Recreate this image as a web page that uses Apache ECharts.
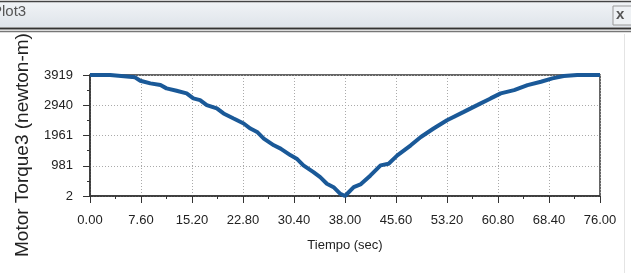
<!DOCTYPE html>
<html>
<head>
<meta charset="utf-8">
<script src="https://cdn.jsdelivr.net/npm/echarts@6/dist/echarts.min.js"></script>
<style>
  html, body { margin: 0; padding: 0; background: #fff; }
  #chart { width: 631px; height: 273px; }
</style>
</head>
<body>
<div id="chart"></div>
<script>
// Motor Torque3 vs Tiempo
const tiempo = [0, 3.0, 3.2, 6.7, 7.5, 9.0, 10.5, 11.4, 12.9, 14.4, 15.4, 16.4, 17.4, 18.9, 19.9,
  21.4, 22.9, 23.9, 24.9, 25.9, 27.4, 28.4, 29.9, 30.8, 31.8, 33.3, 34.3, 35.3, 36.3, 37.3, 38.0,
  38.2, 39.3, 40.3, 41.8, 43.3, 44.5, 45.8, 47.8, 49.3, 51.2, 53.2, 55.7, 57.7, 59.7, 61.2,
  63.2, 65.2, 67.2, 68.9, 70.6, 72.6, 76.0]
const torque = [3919, 3919, 3863, 3843, 3733, 3648, 3593, 3486, 3408, 3323, 3161, 3106, 2943, 2836, 2674,
  2511, 2349, 2186, 2076, 1861, 1643, 1536, 1318, 1211, 993, 775, 613, 398, 288, 73, 2,
  2, 288, 376, 668, 993, 1048, 1318, 1643, 1913, 2186, 2456, 2726, 2943, 3161, 3323,
  3431, 3593, 3701, 3811, 3886, 3918, 3919]

const xTicks = [0, 7.6, 15.2, 22.8, 30.4, 38, 45.6, 53.2, 60.8, 68.4, 76]
const yTicks = [2, 981, 1961, 2940, 3919]

const yMin = yTicks[0]
const yMax = yTicks[yTicks.length - 1]
const yStep = (yMax - yMin) / (yTicks.length - 1)

const chart = echarts.init(document.getElementById('chart'))

const option = {
  animation: false,
  grid: {
    left: 90, right: 31, top: 75, bottom: 77,
    show: true, borderColor: '#333', borderWidth: 1.5, backgroundColor: '#fff'
  },
  xAxis: {
    type: 'value',
    min: xTicks[0],
    max: xTicks[xTicks.length - 1],
    interval: xTicks[1] - xTicks[0],
    name: 'Tiempo (sec)',
    nameLocation: 'middle',
    nameGap: 43,
    nameTextStyle: { fontFamily: 'Liberation Sans', fontSize: 13, color: '#222' },
    axisLine: { lineStyle: { color: '#333', width: 1.5 } },
    axisTick: { length: 7, lineStyle: { color: '#333' } },
    minorTick: { show: true, splitNumber: 2, length: 3, lineStyle: { color: '#333' } },
    axisLabel: {
      margin: 18, fontFamily: 'Liberation Sans', fontSize: 13, color: '#222',
      formatter: v => v.toFixed(2)
    },
    splitLine: { show: true, lineStyle: { color: '#aaa', type: [1, 2], width: 1 } }
  },
  yAxis: {
    type: 'value',
    // axis runs from 0 and data is shifted by yMin so ticks land on the labels
    min: 0,
    max: yMax - yMin,
    interval: yStep,
    axisLine: { show: true, lineStyle: { color: '#333', width: 1.5 } },
    axisTick: { show: true, length: 7, lineStyle: { color: '#333' } },
    minorTick: { show: true, splitNumber: 2, length: 3, lineStyle: { color: '#333' } },
    axisLabel: {
      margin: 17, fontFamily: 'Liberation Sans', fontSize: 13, color: '#222',
      formatter: v => String(Math.round(v + yMin))
    },
    splitLine: { show: true, lineStyle: { color: '#aaa', type: [1, 2], width: 1 } }
  },
  series: [{
    type: 'line',
    data: tiempo.map((t, i) => [t, torque[i] - yMin]),
    showSymbol: false,
    lineStyle: { color: '#1a5998', width: 4 },
    clip: false
  }],
  graphic: [
    {
      type: 'text', z: 10,
      rotation: Math.PI / 2,
      x: 23, y: 257,
      style: {
        text: 'Motor Torque3 (newton-m)',
        fontFamily: 'Liberation Sans', fontSize: 19, fill: '#222',
        textAlign: 'left', textVerticalAlign: 'middle'
      }
    },
    // window chrome on top
    { type: 'rect', z: 20, shape: { x: 0, y: 0, width: 631, height: 34 }, style: { fill: '#fff' } },
    {
      type: 'rect', z: 21, shape: { x: 0, y: 2, width: 631, height: 25 },
      style: {
        fill: new echarts.graphic.LinearGradient(0, 0, 0, 1, [
          { offset: 0, color: '#f0f3f6' }, { offset: 1, color: '#dfe4ea' }
        ])
      }
    },
    { type: 'line', z: 22, shape: { x1: 0, y1: 1.5, x2: 631, y2: 1.5 }, style: { stroke: '#444', lineWidth: 1.5 } },
    { type: 'line', z: 22, shape: { x1: 0, y1: 28.5, x2: 631, y2: 28.5 }, style: { stroke: '#333', lineWidth: 2 } },
    { type: 'line', z: 22, shape: { x1: 0, y1: 31.5, x2: 631, y2: 31.5 }, style: { stroke: '#777', lineWidth: 1.5 } },
    {
      type: 'text', z: 23, x: -8, y: 4,
      style: { text: 'Plot3', fontFamily: 'Liberation Sans', fontSize: 15, fill: '#555' }
    },
    {
      type: 'rect', z: 23, shape: { x: 613, y: 6, width: 20, height: 19 },
      style: { fill: '#eef1f4', stroke: '#999', lineWidth: 1 }
    },
    {
      type: 'text', z: 24, x: 616, y: 7,
      style: { text: 'x', fontFamily: 'Liberation Sans', fontSize: 15, fontWeight: 'bold', fill: '#555' }
    },
    { type: 'line', z: 5, shape: { x1: 624.5, y1: 34, x2: 624.5, y2: 273 }, style: { stroke: '#e4e4e4', lineWidth: 1 } }
  ]
}

chart.setOption(option)
</script>
</body>
</html>
